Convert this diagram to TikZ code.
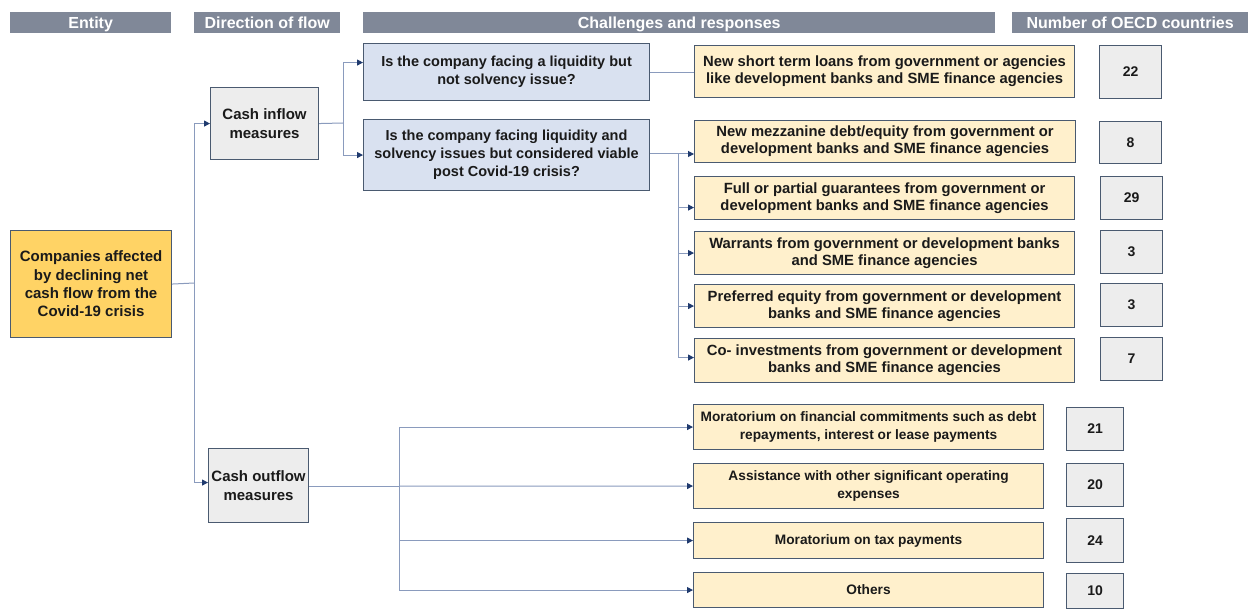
\documentclass[tikz,border=0pt]{standalone}
\usepackage{fontspec}
\setmainfont{Liberation Sans}
\usetikzlibrary{arrows.meta}
\definecolor{hdrgray}{HTML}{808898}
\definecolor{gold}{HTML}{FFD365}
\definecolor{lightyel}{HTML}{FFF0CC}
\definecolor{boxgray}{HTML}{EDEDED}
\definecolor{qblue}{HTML}{D9E1F0}
\definecolor{edge}{HTML}{4A5A70}
\definecolor{connc}{HTML}{8A9BBD}
\definecolor{arrc}{HTML}{1F3A6E}
\definecolor{txt}{HTML}{1A1A1A}
\tikzset{
  hdrbar/.style={fill=hdrgray, draw=none, anchor=north west, inner sep=0pt,
    text=white, font=\fontsize{16}{18}\selectfont\bfseries, minimum height=21pt,
    text height=11.5pt, text depth=0pt},
  basebox/.style={draw=edge, line width=1.1pt, anchor=north west, inner sep=0pt,
    align=center, text=txt},
  entbox/.style={basebox, fill=gold, font=\fontsize{15}{18.3}\selectfont\bfseries},
  dirbox/.style={basebox, fill=boxgray, font=\fontsize{15}{19}\selectfont\bfseries},
  qbox/.style={basebox, fill=qblue, font=\fontsize{14.5}{18}\selectfont\bfseries},
  ybox/.style={basebox, fill=lightyel, font=\fontsize{14.8}{17.3}\selectfont\bfseries},
  yboxs/.style={basebox, fill=lightyel, font=\fontsize{13.7}{18.5}\selectfont\bfseries},
  numbox/.style={basebox, fill=boxgray, font=\fontsize{14}{17}\selectfont\bfseries},
  conn/.style={draw=connc, line width=1pt},
  arr/.style={conn, -{Triangle[width=6pt,length=6pt,color=arrc]}},
}
\begin{document}
\begin{tikzpicture}[x=1pt,y=-1pt]
\useasboundingbox[fill=white] (0,0) rectangle (1249,609);

% headers
\node[hdrbar, minimum width=161pt] (h1) at (10,12) {Entity};
\node[hdrbar, minimum width=146pt] (h2) at (194,12) {Direction of flow};
\node[hdrbar, minimum width=632pt] (h3) at (363,12) {Challenges and responses};
\node[hdrbar, minimum width=236pt] (h4) at (1012,12) {Number of OECD countries};

% entity
\node[entbox, minimum width=161pt, minimum height=107pt] (ent) at (10,230)
  {Companies affected\\by declining net\\cash flow from the\\Covid-19 crisis};

% direction
\node[dirbox, minimum width=108pt, minimum height=72pt] (cin) at (210,87)
  {Cash inflow\\measures};
\node[dirbox, minimum width=100pt, minimum height=74pt] (cout) at (208,448)
  {Cash outflow\\measures};

% questions
\node[qbox, minimum width=286pt, minimum height=57pt] (q1) at (363,43)
  {Is the company facing a liquidity but\\not solvency issue?};
\node[qbox, minimum width=286pt, minimum height=71pt] (q2) at (363,119)
  {Is the company facing liquidity and\\solvency issues but considered viable\\post Covid-19 crisis?};

% responses (inflow)
\node[ybox, minimum width=380pt, minimum height=52pt] (r1) at (694,45)
  {New short term loans from government or agencies\\like development banks and SME finance agencies};
\node[ybox, minimum width=381pt, minimum height=42pt] (r2) at (694,120)
  {New mezzanine debt/equity from government or\\development banks and SME finance agencies};
\node[ybox, minimum width=380pt, minimum height=43pt] (r3) at (694,176)
  {Full or partial guarantees from government or\\development banks and SME finance agencies};
\node[ybox, minimum width=380pt, minimum height=43pt] (r4) at (694,231)
  {Warrants from government or development banks\\and SME finance agencies};
\node[ybox, minimum width=380pt, minimum height=43pt] (r5) at (694,284)
  {Preferred equity from government or development\\banks and SME finance agencies};
\node[ybox, minimum width=380pt, minimum height=44pt] (r6) at (694,338)
  {Co- investments from government or development\\banks and SME finance agencies};

% responses (outflow)
\node[yboxs, minimum width=350pt, minimum height=45pt] (o1) at (693,404)
  {Moratorium on financial commitments such as debt\\repayments, interest or lease payments};
\node[yboxs, minimum width=350pt, minimum height=45pt] (o2) at (693,463)
  {Assistance with other significant operating\\expenses};
\node[yboxs, minimum width=350pt, minimum height=36pt] (o3) at (693,522)
  {Moratorium on tax payments};
\node[yboxs, minimum width=350pt, minimum height=35pt] (o4) at (693,572)
  {Others};

% numbers
\node[numbox, minimum width=62pt, minimum height=53pt] (n1) at (1099,45) {22};
\node[numbox, minimum width=62pt, minimum height=42pt] (n2) at (1099,121) {8};
\node[numbox, minimum width=62pt, minimum height=43pt] (n3) at (1100,176) {29};
\node[numbox, minimum width=62pt, minimum height=43pt] (n4) at (1100,230) {3};
\node[numbox, minimum width=62pt, minimum height=43pt] (n5) at (1100,283) {3};
\node[numbox, minimum width=62pt, minimum height=43pt] (n6) at (1100,337) {7};
\node[numbox, minimum width=57pt, minimum height=43pt] (n7) at (1066,407) {21};
\node[numbox, minimum width=57pt, minimum height=43pt] (n8) at (1066,463) {20};
\node[numbox, minimum width=57pt, minimum height=44pt] (n9) at (1066,518) {24};
\node[numbox, minimum width=57pt, minimum height=35pt] (n10) at (1066,573) {10};

% connectors: entity to direction
\coordinate (tk) at (194,283);
\draw[conn] (ent.east) -- (tk);
\draw[arr] (tk) |- (cin.west);
\draw[arr] (tk) |- ([yshift=3pt]cout.west);

% inflow to questions
\coordinate (bi) at (343,123);
\draw[conn] (cin.east) -- (bi);
\draw[arr] (bi) |- ([yshift=9.5pt]q1.west);
\draw[arr] (bi) |- (q2.west);

% q1 to r1
\draw[conn] (q1.east) -- (q1.east -| r1.west);

% q2 to r2..r6
\coordinate (bq) at (678,154);
\draw[conn] (q2.east |- bq) -- (bq);
\draw[arr] (bq) -- (r2.west |- bq);
\draw[arr] (bq) |- ([yshift=-9.5pt]r3.west);
\draw[arr] (bq) |- (r4.west);
\draw[arr] (bq) |- (r5.west);
\draw[arr] (bq) |- ([yshift=3pt]r6.west);

% outflow
\coordinate (bo) at (399,486);
\draw[conn] (cout.east |- bo) -- (bo);
\draw[arr] (bo) -- (o2.west);
\draw[arr] (bo) |- (o1.west);
\draw[arr] (bo) |- (o3.west);
\draw[arr] (bo) |- (o4.west);
\end{tikzpicture}
\end{document}
